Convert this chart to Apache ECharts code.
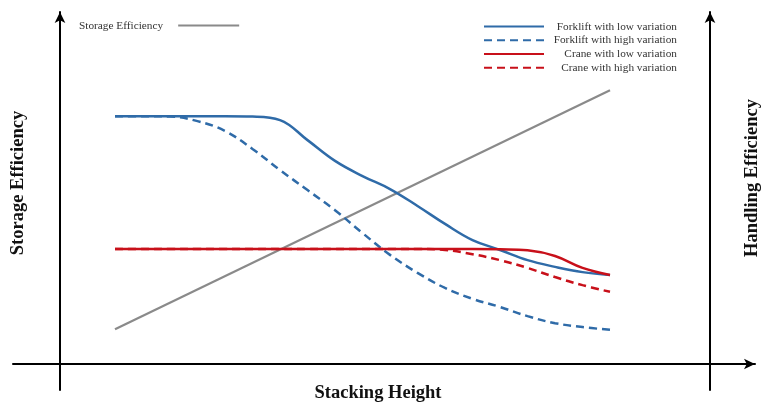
<!DOCTYPE html>
<html>
<head>
<meta charset="utf-8">
<script src="https://cdn.jsdelivr.net/npm/echarts@6/dist/echarts.min.js"></script>
<style>html,body{margin:0;padding:0;background:#fff;}#c{width:761px;height:406px;}</style>
</head>
<body>
<div id="c"></div>
<script>
// Stacking height positions (conceptual units)
const heights = [1, 1.5, 2, 2.5, 3, 3.5, 4, 4.5, 5, 5.5, 6, 6.5, 7, 7.5, 8, 8.5, 9, 9.5, 10];
// Handling efficiency curves (conceptual)
const forkliftLow  = [70.4, 70.4, 70.4, 70.4, 70.4, 70.3, 69.3, 63.6, 57.7, 53.4, 49.7, 44.9, 39.8, 35.2, 32.4, 29.5, 27.6, 26.1, 25.3];
const forkliftHigh = [70.4, 70.4, 70.3, 69.0, 66.2, 61.1, 55.1, 49.4, 43.7, 37.2, 31.0, 25.9, 21.6, 18.5, 16.2, 13.6, 11.6, 10.5, 9.7];
const craneLow     = [32.7, 32.7, 32.7, 32.7, 32.7, 32.7, 32.7, 32.7, 32.7, 32.7, 32.7, 32.7, 32.7, 32.7, 32.6, 32.3, 30.7, 27.3, 25.3];
const craneHigh    = [32.7, 32.7, 32.7, 32.7, 32.7, 32.7, 32.7, 32.7, 32.7, 32.7, 32.7, 32.7, 32.4, 31.2, 29.5, 27.3, 24.7, 22.4, 20.5];
// Storage efficiency (straight line)
const storageHeights = [1, 10];
const storage = [9.9, 77.8];

const seriesNames = ['Forklift with low variation', 'Forklift with high variation', 'Crane with low variation', 'Crane with high variation'];

const pairs = (xs, ys) => xs.map((x, i) => [x, ys[i]]);
const serif = '"Liberation Serif", "Times New Roman", serif';
const blue = '#2f6ba8', red = '#c8101a', gray = '#8a8a8a';

const chart = echarts.init(document.getElementById('c'));
chart.setOption({
  animation: false,
  backgroundColor: '#fff',
  grid: { left: 13, right: 6, top: 12, bottom: 16 },
  xAxis: {
    type: 'value', min: -0.8545, max: 12.636,
    axisLine: { onZero: true, symbol: ['none', 'arrow'], symbolSize: [8, 11], lineStyle: { color: '#000', width: 2 } },
    axisTick: { show: false }, axisLabel: { show: false }, splitLine: { show: false }
  },
  yAxis: [
    {
      type: 'value', min: -7.386, max: 100,
      axisLine: { onZero: true, symbol: ['none', 'arrow'], symbolSize: [8, 11], lineStyle: { color: '#000', width: 2 } },
      axisTick: { show: false }, axisLabel: { show: false }, splitLine: { show: false }
    },
    {
      type: 'value', min: -7.386, max: 100, position: 'right', offset: -45,
      axisLine: { show: true, onZero: false, symbol: ['none', 'arrow'], symbolSize: [8, 11], lineStyle: { color: '#000', width: 2 } },
      axisTick: { show: false }, axisLabel: { show: false }, splitLine: { show: false }
    }
  ],
  legend: [
    {
      data: ['Storage Efficiency'], left: 79, top: 20, align: 'right', padding: 0,
      itemWidth: 61, itemHeight: 14, itemGap: 0,
      itemStyle: { opacity: 0 },
      textStyle: { fontFamily: serif, fontSize: 11.3, color: '#333', padding: [0, 10, 0, 0] }
    },
    {
      data: seriesNames, left: 483, top: 21, orient: 'vertical', align: 'left', padding: 0,
      itemWidth: 60, itemHeight: 14, itemGap: 2.5,
      itemStyle: { opacity: 0 },
      formatter: '{r|{name}}',
      textStyle: { fontFamily: serif, fontSize: 11.3, color: '#333',
        rich: { r: { width: 128, align: 'right', fontFamily: serif, fontSize: 11.3, color: '#333' } } }
    }
  ],
  graphic: [
    { type: 'text', x: 18, y: 183, rotation: Math.PI / 2,
      style: { text: 'Storage Efficiency', font: 'bold 18.5px ' + serif, fill: '#111', align: 'center', verticalAlign: 'middle', textAlign: 'center', textVerticalAlign: 'middle' } },
    { type: 'text', x: 752, y: 178, rotation: Math.PI / 2,
      style: { text: 'Handling Efficiency', font: 'bold 18.5px ' + serif, fill: '#111', align: 'center', verticalAlign: 'middle', textAlign: 'center', textVerticalAlign: 'middle' } },
    { type: 'text', x: 378, y: 393,
      style: { text: 'Stacking Height', font: 'bold 18.5px ' + serif, fill: '#111', align: 'center', verticalAlign: 'middle', textAlign: 'center', textVerticalAlign: 'middle' } }
  ],
  series: [
    { name: 'Storage Efficiency', type: 'line', symbol: 'none', data: pairs(storageHeights, storage),
      lineStyle: { color: gray, width: 2.2 }, itemStyle: { color: gray } },
    { name: seriesNames[0], type: 'line', symbol: 'none', smooth: 0.4, data: pairs(heights, forkliftLow),
      lineStyle: { color: blue, width: 2.5 }, itemStyle: { color: blue } },
    { name: seriesNames[1], type: 'line', symbol: 'none', smooth: 0.4, data: pairs(heights, forkliftHigh),
      lineStyle: { color: blue, width: 2.5, type: [8, 5] }, itemStyle: { color: blue } },
    { name: seriesNames[2], type: 'line', symbol: 'none', smooth: 0.4, data: pairs(heights, craneLow),
      lineStyle: { color: red, width: 2.5 }, itemStyle: { color: red } },
    { name: seriesNames[3], type: 'line', symbol: 'none', smooth: 0.4, data: pairs(heights, craneHigh),
      lineStyle: { color: red, width: 2.5, type: [8, 5] }, itemStyle: { color: red } }
  ]
});
</script>
</body>
</html>
